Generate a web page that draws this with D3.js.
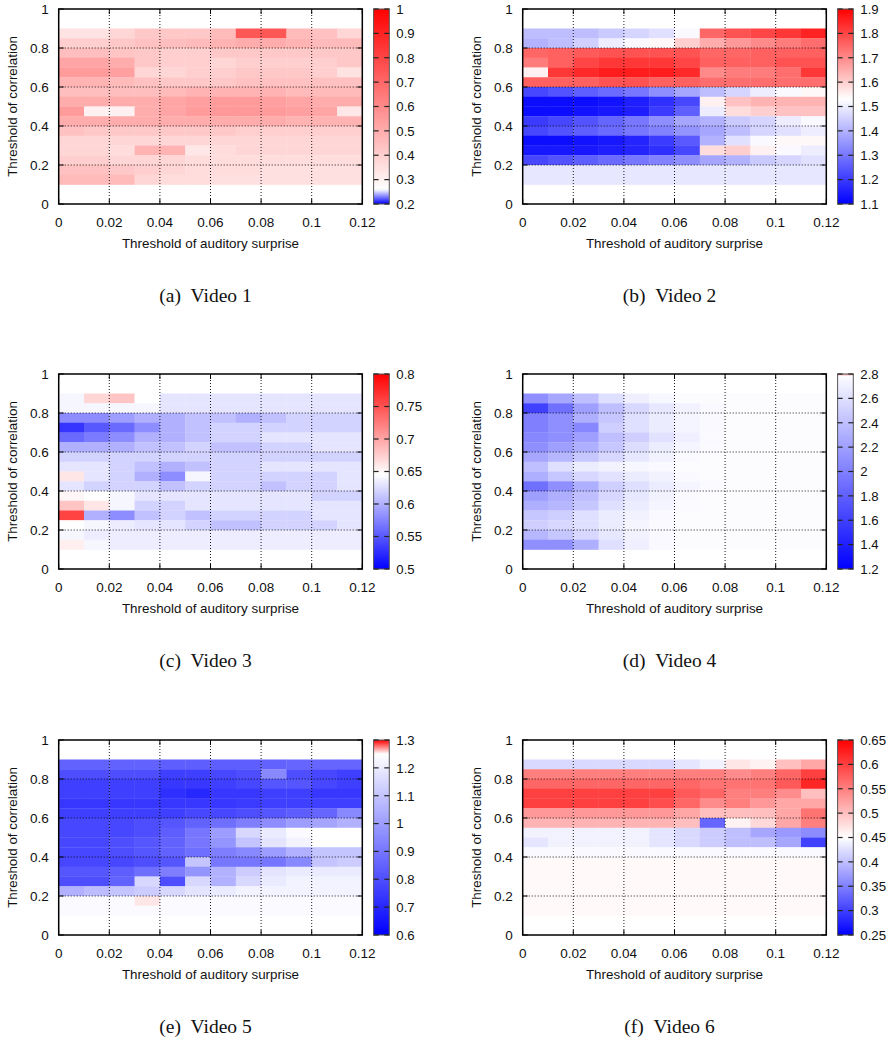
<!DOCTYPE html>
<script src="https://d3js.org/d3.v7.min.js"></script>
<body style="margin: 0; background: #fff;">
<svg id="fig" width="889" height="1040"></svg>
</body>

<style>
  text { font-family: "Liberation Sans", Arial, sans-serif; fill: #111; }
  .tick { font-size: 13.5px; }
  .cbtick { font-size: 13.2px; }
  .title { font-size: 13.4px; }
  .cap { font-family: "Liberation Serif", "Times New Roman", serif; font-size: 19.5px; }
</style>

<script>
// cell left edges (auditory surprise) and cell bottoms (correlation), top row first
var xCols = [0, 0.01, 0.02, 0.03, 0.04, 0.05, 0.06, 0.07, 0.08, 0.09, 0.1, 0.11];
var yRows = [0.85, 0.8, 0.75, 0.7, 0.65, 0.6, 0.55, 0.5, 0.45, 0.4, 0.35, 0.3, 0.25, 0.2, 0.15, 0.1];
var xTicks = [0, 0.02, 0.04, 0.06, 0.08, 0.1, 0.12];
var yTicks = [0, 0.2, 0.4, 0.6, 0.8, 1];

var video1 = [
  [0.34,0.34,0.38,0.42,0.42,0.42,0.46,0.75,0.75,0.46,0.44,0.38],
  [0.40,0.40,0.42,0.44,0.45,0.46,0.48,0.50,0.50,0.48,0.46,0.46],
  [0.45,0.45,0.43,0.42,0.40,0.40,0.42,0.42,0.42,0.42,0.42,0.42],
  [0.52,0.52,0.50,0.42,0.40,0.40,0.38,0.40,0.40,0.40,0.40,0.42],
  [0.55,0.55,0.54,0.38,0.38,0.40,0.40,0.42,0.42,0.42,0.40,0.34],
  [0.48,0.48,0.46,0.44,0.42,0.42,0.42,0.44,0.44,0.44,0.44,0.44],
  [0.45,0.45,0.45,0.45,0.46,0.48,0.48,0.48,0.48,0.46,0.46,0.46],
  [0.50,0.50,0.50,0.50,0.52,0.54,0.55,0.55,0.54,0.52,0.50,0.50],
  [0.55,0.30,0.30,0.50,0.52,0.55,0.56,0.56,0.55,0.54,0.52,0.33],
  [0.50,0.50,0.50,0.50,0.50,0.50,0.50,0.50,0.50,0.48,0.48,0.48],
  [0.44,0.42,0.42,0.42,0.42,0.42,0.42,0.40,0.40,0.40,0.40,0.40],
  [0.38,0.38,0.38,0.38,0.38,0.38,0.38,0.38,0.38,0.38,0.38,0.38],
  [0.38,0.38,0.36,0.48,0.48,0.33,0.36,0.38,0.38,0.38,0.38,0.38],
  [0.40,0.40,0.38,0.38,0.38,0.36,0.36,0.36,0.36,0.36,0.36,0.36],
  [0.44,0.44,0.42,0.40,0.38,0.36,0.36,0.36,0.35,0.35,0.35,0.35],
  [0.46,0.46,0.46,0.38,0.36,0.36,0.35,0.35,0.35,0.35,0.35,0.35]
];

var video2 = [
  [1.42,1.42,1.42,1.44,1.46,1.48,1.52,1.75,1.78,1.80,1.82,1.85],
  [1.40,1.42,1.45,1.50,1.52,1.54,1.60,1.65,1.68,1.70,1.72,1.74],
  [1.75,1.76,1.77,1.78,1.78,1.78,1.78,1.75,1.75,1.76,1.76,1.76],
  [1.72,1.76,1.80,1.82,1.82,1.82,1.80,1.76,1.76,1.76,1.78,1.78],
  [1.55,1.82,1.84,1.86,1.86,1.86,1.84,1.70,1.72,1.72,1.74,1.82],
  [1.76,1.76,1.76,1.78,1.78,1.76,1.76,1.74,1.74,1.74,1.74,1.74],
  [1.22,1.24,1.26,1.28,1.30,1.34,1.38,1.42,1.46,1.50,1.52,1.54],
  [1.12,1.12,1.12,1.13,1.15,1.18,1.22,1.55,1.62,1.64,1.64,1.64],
  [1.12,1.12,1.13,1.14,1.15,1.20,1.26,1.50,1.58,1.60,1.62,1.62],
  [1.20,1.22,1.24,1.27,1.30,1.34,1.38,1.40,1.44,1.46,1.50,1.52],
  [1.22,1.24,1.26,1.28,1.30,1.32,1.35,1.38,1.42,1.46,1.48,1.50],
  [1.12,1.12,1.13,1.14,1.16,1.20,1.25,1.40,1.48,1.52,1.54,1.54],
  [1.14,1.14,1.14,1.15,1.16,1.18,1.22,1.58,1.60,1.55,1.52,1.50],
  [1.22,1.24,1.26,1.28,1.30,1.32,1.34,1.38,1.40,1.44,1.46,1.48],
  [1.49,1.49,1.49,1.49,1.49,1.49,1.49,1.49,1.49,1.49,1.49,1.49],
  [1.49,1.49,1.49,1.49,1.49,1.49,1.49,1.49,1.49,1.49,1.49,1.49]
];

var video3 = [
  [0.64,0.67,0.68,0.645,0.63,0.63,0.63,0.63,0.63,0.63,0.63,0.63],
  [0.64,0.64,0.64,0.64,0.63,0.63,0.63,0.63,0.63,0.63,0.63,0.63],
  [0.58,0.58,0.59,0.60,0.60,0.61,0.61,0.60,0.61,0.62,0.62,0.62],
  [0.53,0.55,0.56,0.58,0.60,0.61,0.62,0.62,0.62,0.62,0.62,0.62],
  [0.56,0.57,0.58,0.60,0.60,0.61,0.62,0.62,0.63,0.63,0.63,0.63],
  [0.60,0.60,0.60,0.61,0.61,0.62,0.61,0.61,0.62,0.62,0.63,0.63],
  [0.62,0.62,0.62,0.62,0.62,0.62,0.62,0.62,0.62,0.62,0.62,0.62],
  [0.63,0.63,0.62,0.61,0.60,0.61,0.62,0.62,0.63,0.63,0.63,0.63],
  [0.66,0.63,0.62,0.60,0.58,0.64,0.62,0.62,0.62,0.62,0.62,0.63],
  [0.63,0.62,0.62,0.62,0.61,0.62,0.62,0.62,0.61,0.62,0.62,0.63],
  [0.65,0.645,0.64,0.63,0.63,0.63,0.63,0.63,0.63,0.63,0.62,0.62],
  [0.68,0.66,0.64,0.62,0.62,0.63,0.63,0.63,0.63,0.63,0.63,0.63],
  [0.76,0.60,0.58,0.61,0.62,0.61,0.62,0.62,0.62,0.62,0.63,0.63],
  [0.645,0.64,0.635,0.63,0.63,0.62,0.61,0.61,0.62,0.62,0.62,0.63],
  [0.64,0.635,0.635,0.635,0.635,0.635,0.635,0.635,0.635,0.635,0.635,0.635],
  [0.655,0.64,0.635,0.635,0.635,0.635,0.635,0.635,0.635,0.635,0.635,0.635]
];

var video4 = [
  [2.10,2.25,2.40,2.60,2.70,2.75,2.78,2.78,2.78,2.78,2.78,2.78],
  [1.60,1.90,2.20,2.40,2.55,2.65,2.72,2.76,2.78,2.78,2.78,2.78],
  [2.00,2.10,2.30,2.45,2.60,2.68,2.74,2.76,2.78,2.78,2.78,2.78],
  [2.00,2.10,2.05,2.50,2.60,2.68,2.74,2.76,2.78,2.78,2.78,2.78],
  [2.05,2.10,2.20,2.40,2.50,2.62,2.70,2.76,2.78,2.78,2.78,2.78],
  [2.10,2.20,2.30,2.45,2.58,2.68,2.74,2.77,2.78,2.78,2.78,2.78],
  [2.25,2.35,2.45,2.55,2.65,2.72,2.76,2.78,2.78,2.78,2.78,2.78],
  [2.40,2.60,2.68,2.72,2.75,2.76,2.78,2.78,2.78,2.78,2.78,2.78],
  [2.30,2.45,2.55,2.62,2.68,2.72,2.76,2.78,2.78,2.78,2.78,2.78],
  [1.90,2.10,2.30,2.50,2.60,2.68,2.74,2.77,2.78,2.78,2.78,2.78],
  [2.20,2.30,2.40,2.55,2.65,2.72,2.76,2.78,2.78,2.78,2.78,2.78],
  [2.30,2.35,2.45,2.60,2.68,2.74,2.77,2.78,2.78,2.78,2.78,2.78],
  [2.45,2.50,2.60,2.68,2.72,2.76,2.78,2.78,2.78,2.78,2.78,2.78],
  [2.50,2.55,2.60,2.68,2.74,2.77,2.78,2.78,2.78,2.78,2.78,2.78],
  [2.35,2.45,2.55,2.65,2.72,2.76,2.78,2.78,2.78,2.78,2.78,2.78],
  [2.10,2.10,2.30,2.60,2.70,2.76,2.78,2.78,2.78,2.78,2.78,2.78]
];

var video5 = [
  [0.85,0.85,0.85,0.85,0.84,0.84,0.84,0.84,0.85,0.86,0.86,0.86],
  [0.80,0.80,0.80,0.80,0.76,0.76,0.78,0.80,0.95,0.80,0.78,0.76],
  [0.76,0.76,0.76,0.76,0.74,0.74,0.76,0.78,0.82,0.82,0.78,0.76],
  [0.76,0.76,0.76,0.76,0.72,0.70,0.74,0.74,0.76,0.76,0.74,0.74],
  [0.74,0.74,0.74,0.74,0.74,0.74,0.74,0.75,0.76,0.76,0.76,0.76],
  [0.76,0.76,0.76,0.76,0.76,0.78,0.78,0.80,0.82,0.84,0.86,0.95],
  [0.78,0.78,0.78,0.80,0.82,0.85,0.88,0.92,0.96,1.00,1.02,1.05],
  [0.78,0.78,0.78,0.80,0.84,0.90,1.00,1.15,1.20,1.24,1.25,1.25],
  [0.78,0.78,0.80,0.82,0.85,0.90,0.98,1.10,1.18,1.22,1.25,1.25],
  [0.78,0.78,0.80,0.82,0.85,0.88,0.92,0.95,1.00,1.05,1.10,1.10],
  [0.78,0.78,0.78,0.80,0.82,1.10,0.90,0.90,0.90,0.95,1.10,1.12],
  [0.82,0.82,0.84,0.88,0.92,0.98,1.05,1.12,1.18,1.20,1.20,1.20],
  [0.80,0.80,0.85,1.15,0.80,1.15,1.05,1.15,1.20,1.22,1.22,1.22],
  [1.05,1.08,1.10,1.12,1.15,1.18,1.20,1.22,1.22,1.22,1.22,1.22],
  [1.24,1.24,1.24,1.255,1.24,1.24,1.24,1.24,1.24,1.24,1.24,1.24],
  [1.24,1.24,1.24,1.24,1.24,1.24,1.24,1.24,1.24,1.24,1.24,1.24]
];

var video6 = [
  [0.42,0.42,0.42,0.42,0.42,0.42,0.43,0.44,0.47,0.46,0.50,0.52],
  [0.55,0.55,0.55,0.55,0.55,0.55,0.55,0.55,0.54,0.55,0.57,0.60],
  [0.57,0.57,0.57,0.57,0.57,0.57,0.57,0.56,0.56,0.56,0.58,0.62],
  [0.60,0.60,0.60,0.60,0.60,0.60,0.58,0.57,0.55,0.55,0.54,0.50],
  [0.60,0.60,0.60,0.60,0.60,0.59,0.57,0.54,0.55,0.53,0.52,0.52],
  [0.53,0.53,0.53,0.53,0.53,0.53,0.52,0.50,0.50,0.50,0.52,0.56],
  [0.51,0.51,0.51,0.51,0.51,0.51,0.50,0.33,0.46,0.48,0.52,0.55],
  [0.44,0.44,0.44,0.44,0.44,0.43,0.42,0.41,0.40,0.38,0.37,0.36],
  [0.43,0.44,0.44,0.44,0.44,0.43,0.42,0.41,0.40,0.40,0.38,0.30],
  [0.445,0.445,0.445,0.445,0.445,0.445,0.445,0.445,0.445,0.445,0.445,0.445],
  [0.455,0.455,0.455,0.455,0.455,0.455,0.455,0.455,0.455,0.455,0.455,0.455],
  [0.455,0.455,0.455,0.455,0.455,0.455,0.455,0.455,0.455,0.455,0.455,0.455],
  [0.455,0.455,0.455,0.455,0.455,0.455,0.455,0.455,0.455,0.455,0.455,0.455],
  [0.455,0.455,0.455,0.455,0.455,0.455,0.455,0.455,0.455,0.455,0.455,0.455],
  [0.455,0.455,0.455,0.455,0.455,0.455,0.455,0.455,0.455,0.455,0.455,0.455],
  [0.455,0.455,0.455,0.455,0.455,0.455,0.455,0.455,0.455,0.455,0.455,0.455]
];

// colour bar: [min, white point, max] and ticks
var cb1 = [0.2, 0.26, 1],    cbTicks1 = [0.2,0.3,0.4,0.5,0.6,0.7,0.8,0.9,1];
var cb2 = [1.1, 1.53, 1.9],  cbTicks2 = [1.1,1.2,1.3,1.4,1.5,1.6,1.7,1.8,1.9];
var cb3 = [0.5, 0.645, 0.8], cbTicks3 = [0.5,0.55,0.6,0.65,0.7,0.75,0.8];
var cb4 = [1.2, 2.8, 2.8],   cbTicks4 = [1.2,1.4,1.6,1.8,2,2.2,2.4,2.6,2.8];
var cb5 = [0.6, 1.25, 1.3],  cbTicks5 = [0.6,0.7,0.8,0.9,1,1.1,1.2,1.3];
var cb6 = [0.25, 0.45, 0.65],cbTicks6 = [0.25,0.3,0.35,0.4,0.45,0.5,0.55,0.6,0.65];

var captions = ["(a)", "(b)", "(c)", "(d)", "(e)", "(f)"];
var names = ["Video 1", "Video 2", "Video 3", "Video 4", "Video 5", "Video 6"];

var panels = [
  {data: video1, cb: cb1, ticks: cbTicks1},
  {data: video2, cb: cb2, ticks: cbTicks2},
  {data: video3, cb: cb3, ticks: cbTicks3},
  {data: video4, cb: cb4, ticks: cbTicks4},
  {data: video5, cb: cb5, ticks: cbTicks5},
  {data: video6, cb: cb6, ticks: cbTicks6}
];

var svg = d3.select("#fig");
var colX = [58.7, 522.7];
var rowY = [9, 374, 740];
var pw = 303.6, ph = 195;
var fmt = d3.format("~g");

panels.forEach(function(p, i) {
  var x0 = colX[i % 2], y0 = rowY[Math.floor(i / 2)];
  var g = svg.append("g").attr("transform", "translate(" + x0 + "," + y0 + ")");

  var x = d3.scaleLinear().domain([0, 0.12]).range([0, pw]);
  var y = d3.scaleLinear().domain([0, 1]).range([ph, 0]);
  var color = d3.scaleLinear().domain(p.cb).range(["#0000ff", "#ffffff", "#ff0000"]);

  var cells = [];
  p.data.forEach(function(row, r) {
    row.forEach(function(v, c) { cells.push({x: xCols[c], y: yRows[r], v: v}); });
  });

  g.append("g").selectAll("rect")
    .data(cells)
    .join("rect")
      .attr("x", d => x(d.x))
      .attr("y", d => y(d.y + 0.05))
      .attr("width", x(0.01) - x(0) + 0.3)
      .attr("height", y(0) - y(0.05) + 0.3)
      .attr("fill", d => color(d.v));

  // dotted grid
  g.append("g").selectAll("line.gx")
    .data(xTicks.slice(1, -1))
    .join("line")
      .attr("x1", d => x(d)).attr("x2", d => x(d))
      .attr("y1", 0).attr("y2", ph);
  g.append("g").selectAll("line.gy")
    .data(yTicks.slice(1, -1))
    .join("line")
      .attr("x1", 0).attr("x2", pw)
      .attr("y1", d => y(d)).attr("y2", d => y(d));
  g.selectAll("line")
    .attr("stroke", "#000").attr("stroke-width", 0.9)
    .attr("stroke-dasharray", "1,2");

  // inward ticks on all four sides
  var tk = g.append("g").attr("stroke", "#000").attr("stroke-width", 1);
  xTicks.forEach(function(t) {
    tk.append("line").attr("x1", x(t)).attr("x2", x(t)).attr("y1", ph).attr("y2", ph - 5);
    tk.append("line").attr("x1", x(t)).attr("x2", x(t)).attr("y1", 0).attr("y2", 5);
  });
  yTicks.forEach(function(t) {
    tk.append("line").attr("x1", 0).attr("x2", 5).attr("y1", y(t)).attr("y2", y(t));
    tk.append("line").attr("x1", pw).attr("x2", pw - 5).attr("y1", y(t)).attr("y2", y(t));
  });

  g.append("rect")
    .attr("width", pw).attr("height", ph)
    .attr("fill", "none").attr("stroke", "#000").attr("stroke-width", 1.5);

  g.append("g").selectAll("text")
    .data(xTicks)
    .join("text")
      .attr("class", "tick")
      .attr("x", d => x(d)).attr("y", ph + 22.5)
      .attr("text-anchor", "middle")
      .text(d => fmt(d));

  g.append("g").selectAll("text")
    .data(yTicks)
    .join("text")
      .attr("class", "tick")
      .attr("x", -10).attr("y", d => y(d) + 4.8)
      .attr("text-anchor", "end")
      .text(d => fmt(d));

  g.append("text")
    .attr("class", "title")
    .attr("x", pw / 2).attr("y", ph + 43.5)
    .attr("text-anchor", "middle")
    .text("Threshold of auditory surprise");

  g.append("text")
    .attr("class", "title")
    .attr("transform", "translate(-42," + (ph / 2) + ") rotate(-90)")
    .attr("text-anchor", "middle")
    .text("Threshold of correlation");

  // colour bar
  var cbx = pw + 11.3, cbw = 15.7;
  var cy = d3.scaleLinear().domain([p.cb[0], p.cb[2]]).range([ph, 0]);
  var gid = "grad" + i;
  var grad = svg.append("defs").append("linearGradient")
    .attr("id", gid).attr("x1", 0).attr("y1", 1).attr("x2", 0).attr("y2", 0);
  var span = p.cb[2] - p.cb[0];
  grad.selectAll("stop")
    .data(d3.range(0, 101))
    .join("stop")
      .attr("offset", d => d + "%")
      .attr("stop-color", d => color(p.cb[0] + span * d / 100));

  g.append("rect")
    .attr("x", cbx).attr("y", 0).attr("width", cbw).attr("height", ph)
    .attr("fill", "url(#" + gid + ")")
    .attr("stroke", "#555").attr("stroke-width", 1);

  var ctk = g.append("g").attr("stroke", "#222").attr("stroke-width", 1.2);
  p.ticks.forEach(function(t) {
    ctk.append("line").attr("x1", cbx).attr("x2", cbx + 5).attr("y1", cy(t)).attr("y2", cy(t));
    ctk.append("line").attr("x1", cbx + cbw).attr("x2", cbx + cbw - 5).attr("y1", cy(t)).attr("y2", cy(t));
  });

  g.append("g").selectAll("text")
    .data(p.ticks)
    .join("text")
      .attr("class", "cbtick")
      .attr("x", cbx + cbw + 7).attr("y", d => cy(d) + 4.8)
      .text(d => fmt(d));

  // caption
  g.append("text")
    .attr("class", "cap")
    .attr("x", pw / 2 - 5).attr("y", ph + 98)
    .attr("text-anchor", "middle")
    .attr("xml:space", "preserve")
    .text(captions[i] + "\u2002" + names[i]);
});
</script>
